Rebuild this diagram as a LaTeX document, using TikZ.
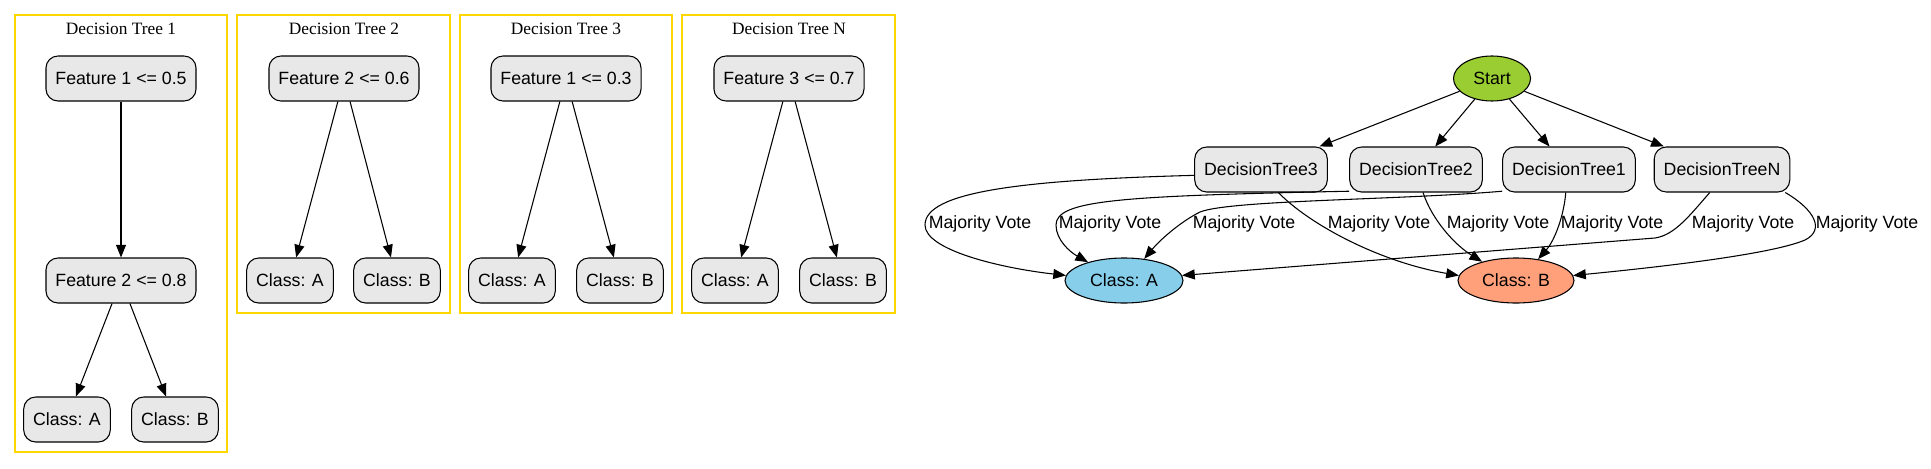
\documentclass[tikz,border=0pt]{standalone}
\usepackage{fontspec}
\setmainfont{Liberation Sans}
\newfontfamily\titlefont{Liberation Serif}
\usetikzlibrary{arrows.meta}
\usetikzlibrary{shapes.geometric}

\definecolor{boxgray}{HTML}{E8E8E8}
\definecolor{startgreen}{HTML}{9ACD32}
\definecolor{classblue}{HTML}{87CEEB}
\definecolor{classsalmon}{HTML}{FFA07A}
\definecolor{clustergold}{HTML}{FFD700}

\begin{document}
\begin{tikzpicture}[x=0.75pt,y=-0.75pt]
		\useasboundingbox (0,0) rectangle (1931,468);

		% cluster frames and titles
		\begin{scope}[every node/.style={font=\titlefont\fontsize{13}{15}\selectfont}]
		\draw[clustergold, line width=0.8pt] (15,15) rectangle (227,452);
		\draw[clustergold, line width=0.8pt] (237,15) rectangle (450,313);
		\draw[clustergold, line width=0.8pt] (460,15) rectangle (672,313);
		\draw[clustergold, line width=0.8pt] (682,15) rectangle (895,313);
		\node (title1) at (121,29) {Decision Tree 1};
		\node (title2) at (344,29) {Decision Tree 2};
		\node (title3) at (566,29) {Decision Tree 3};
		\node (titleN) at (789,29) {Decision Tree N};
		\end{scope}

		\begin{scope}[every node/.style={rectangle,rounded corners=9pt,draw=black,fill=boxgray,line width=0.8pt,
			minimum height=33.75pt,inner xsep=7.1pt,font=\fontsize{13.3}{16}\selectfont}]
		\node (t1f1) at (121,78.5) {Feature 1 <= 0.5};
		\node (t1f2) at (121,280.5) {Feature 2 <= 0.8};
		\node (t1a) at (67,419.5) {Class: A};
		\node (t1b) at (175,419.5) {Class: B};
		\node (t2f) at (344,78.5) {Feature 2 <= 0.6};
		\node (t2a) at (290,280.5) {Class: A};
		\node (t2b) at (397,280.5) {Class: B};
		\node (t3f) at (566,78.5) {Feature 1 <= 0.3};
		\node (t3a) at (512,280.5) {Class: A};
		\node (t3b) at (620,280.5) {Class: B};
		\node (tnf) at (789,78.5) {Feature 3 <= 0.7};
		\node (tna) at (735,280.5) {Class: A};
		\node (tnb) at (843,280.5) {Class: B};
		\node (dt3) at (1261,169.5) {DecisionTree3};
		\node (dt2) at (1416,169.5) {DecisionTree2};
		\node (dt1) at (1569,169.5) {DecisionTree1};
		\node (dtN) at (1722,169.5) {DecisionTreeN};
		\end{scope}

		\begin{scope}[every node/.style={ellipse,draw=black,line width=0.8pt,inner sep=0pt,
			minimum height=33.75pt,font=\fontsize{13.3}{16}\selectfont}]
		\node[fill=startgreen,minimum width=57.75pt] (start) at (1492,78.5) {Start};
		\node[fill=classblue,minimum width=88.5pt] (clsA) at (1124,280.5) {Class: A};
		\node[fill=classsalmon,minimum width=87pt] (clsB) at (1516,280.5) {Class: B};
		\end{scope}

		% edge labels
		\begin{scope}[every node/.style={inner sep=0pt,font=\fontsize{13.3}{16}\selectfont}]
		\node (v3a) at (980,224) {Majority Vote};
		\node (v2a) at (1110,224) {Majority Vote};
		\node (v1a) at (1244,224) {Majority Vote};
		\node (v3b) at (1379,224) {Majority Vote};
		\node (v2b) at (1498,224) {Majority Vote};
		\node (v1b) at (1612,224) {Majority Vote};
		\node (vNa) at (1743,224) {Majority Vote};
		\node (vNb) at (1867,224) {Majority Vote};
		\end{scope}

		\begin{scope}[>={Triangle[length=9.5pt,width=7.5pt]},
		line width=0.8pt,
		every edge/.style={draw=black,line width=0.8pt}]
		\path [->] (t1f1) edge (t1f2);
		\path [->] (t1f2) edge (t1a);
		\path [->] (t1f2) edge (t1b);
		\path [->] (t2f) edge (t2a);
		\path [->] (t2f) edge (t2b);
		\path [->] (t3f) edge (t3a);
		\path [->] (t3f) edge (t3b);
		\path [->] (tnf) edge (tna);
		\path [->] (tnf) edge (tnb);

		\path [->] (start) edge (dt3);
		\path [->] (start) edge (dt2);
		\path [->] (start) edge (dt1);
		\path [->] (start) edge (dtN);

		\draw [->] (dt3.185) .. controls (1020,180) and (925,192) .. (925,225)
			.. controls (925,250) and (1000,268) .. (clsA.175);
		\draw [->] (dt2.198) .. controls (1120,196) and (1056,200) .. (1056,225)
			.. controls (1056,240) and (1070,252) .. (clsA.153);
		\draw [->] (dt1.198) .. controls (1400,200) and (1230,200) .. (1200,212)
			.. controls (1180,222) and (1160,240) .. (clsA.47);
		\draw [->] (dt3.307) .. controls (1310,225) and (1380,262) .. (clsB.175);
		\draw [->] (dt2.287) .. controls (1432,220) and (1455,245) .. (clsB.151);
		\draw [->] (dt1.262) .. controls (1564,215) and (1555,240) .. (clsB.44);
		\draw [->] (dtN.242) .. controls (1690,215) and (1675,235) .. (1655,238) -- (clsA.5);
		\draw [->] (dtN.340) .. controls (1815,210) and (1825,230) .. (1805,240)
			.. controls (1770,255) and (1650,268) .. (clsB.5);
		\end{scope}
\end{tikzpicture}
\end{document}
